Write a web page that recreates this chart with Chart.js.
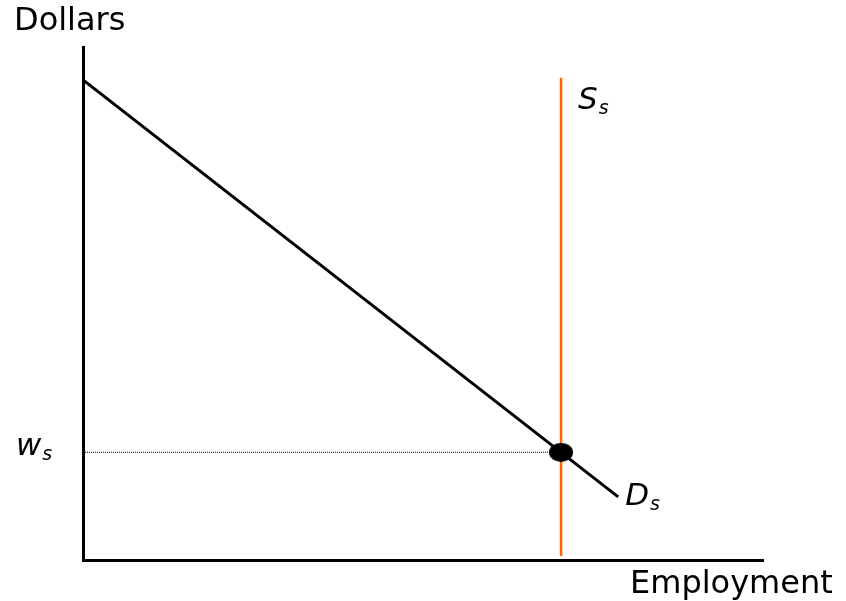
<!DOCTYPE html>
<html>
<head>
<meta charset="utf-8">
<script src="https://cdn.jsdelivr.net/npm/chart.js@4"></script>
<style>
  html, body { margin: 0; padding: 0; background: #fff; }
  #wrap { width: 846px; height: 601px; position: relative; }
</style>
</head>
<body>
<div id="wrap"><canvas id="c"></canvas></div>
<script>
// values (x = employment, y = dollars, both 0..100)
const demandX = [0, 78.7];
const demandY = [93.6, 12.3];
const supplyX = [70.3, 70.3];
const supplyY = [0.8, 94];
const wageLevel = 21;
const eqEmployment = 70.3;

const axisTitles = { x: 'Employment', y: 'Dollars' };
const curveLabels = { supply: ['S', 's'], demand: ['D', 's'], wage: ['w', 's'] };

const FONT = '"DejaVu Sans", Verdana, sans-serif';

function pts(xs, ys) {
    return xs.map((x, i) => ({ x: x, y: ys[i] }));
}

// the equilibrium dot is a bit wider than tall
function ellipseMarker(w, h) {
    const c = document.createElement('canvas');
    c.width = w;
    c.height = h;
    const g = c.getContext('2d');
    g.fillStyle = '#000';
    g.beginPath();
    g.ellipse(w / 2, h / 2, w / 2, h / 2, 0, 0, Math.PI * 2);
    g.fill();
    return c;
}

// draws a letter with a small subscript
function subLabel(ctx, parts, x, y) {
    ctx.font = 'italic 31px ' + FONT;
    ctx.fillText(parts[0], x, y);
    const w = ctx.measureText(parts[0]).width;
    ctx.font = 'italic 19px ' + FONT;
    ctx.fillText(parts[1], x + w + 1, y + 5);
}

const labelPlugin = {
    id: 'labels',
    afterDraw(chart) {
        const ctx = chart.ctx;
        const sx = chart.scales.x, sy = chart.scales.y;
        ctx.save();
        ctx.fillStyle = '#000';
        ctx.textBaseline = 'alphabetic';
        ctx.textAlign = 'left';
        ctx.font = '32px ' + FONT;
        ctx.fillText(axisTitles.y, 14, 30);
        ctx.fillText(axisTitles.x, 630, 593);

        subLabel(ctx, curveLabels.supply, sx.getPixelForValue(supplyX[1]) + 17, sy.getPixelForValue(supplyY[1]) + 31);
        subLabel(ctx, curveLabels.demand, sx.getPixelForValue(demandX[1]) + 7, sy.getPixelForValue(demandY[1]) + 8);
        subLabel(ctx, curveLabels.wage, 16, sy.getPixelForValue(wageLevel) + 3);
        ctx.restore();
    }
};

new Chart(document.getElementById('c'), {
    type: 'scatter',
    data: {
        datasets: [
            {
                label: 'wage',
                data: pts([0, eqEmployment], [wageLevel, wageLevel]),
                showLine: true,
                borderColor: '#000',
                borderWidth: 1,
                borderDash: [1, 1],
                pointRadius: 0,
                order: 3
            },
            {
                label: 'supply',
                data: pts(supplyX, supplyY),
                showLine: true,
                borderColor: '#ff6600',
                borderWidth: 2.5,
                pointRadius: 0,
                order: 2
            },
            {
                label: 'demand',
                data: pts(demandX, demandY),
                showLine: true,
                borderColor: '#000',
                borderWidth: 3,
                pointRadius: 0,
                order: 1
            },
            {
                // lowest order is drawn last, so the dot sits on top
                label: 'equilibrium',
                data: [{ x: eqEmployment, y: wageLevel }],
                pointStyle: ellipseMarker(24, 19),
                pointRadius: 10,
                order: 0
            }
        ]
    },
    options: {
        responsive: true,
        maintainAspectRatio: false,
        animation: false,
        events: [],
        layout: { padding: { left: 75, top: 47, right: 83, bottom: 33 } },
        plugins: { legend: { display: false }, tooltip: { enabled: false } },
        scales: {
            x: {
                type: 'linear', min: 0, max: 100,
                grid: { display: false },
                ticks: { display: false },
                border: { display: true, color: '#000', width: 3 }
            },
            y: {
                type: 'linear', min: 0, max: 100,
                grid: { display: false },
                ticks: { display: false },
                border: { display: true, color: '#000', width: 3 }
            }
        }
    },
    plugins: [labelPlugin]
});
</script>
</body>
</html>
